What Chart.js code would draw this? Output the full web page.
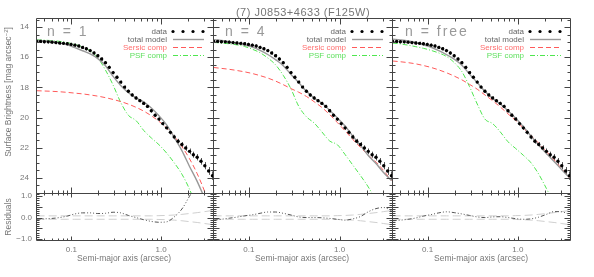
<!DOCTYPE html>
<html>
<head>
<meta charset="utf-8">
<title>(7) J0853+4633 (F125W)</title>
<script src="https://cdn.jsdelivr.net/npm/chart.js@4.4.1/dist/chart.umd.min.js"></script>
<style>
  body { margin: 0; background: #fff; }
  #page { position: relative; width: 594px; height: 277px; overflow: hidden; }
  #page canvas { position: absolute; left: 0; top: 0; }
  .lbl { position: absolute; font-family: "Liberation Sans", Arial, sans-serif; color: #777; white-space: nowrap; transform: translate(-50%, -50%); }
  .nlab { position: absolute; font-family: "Liberation Sans", Arial, sans-serif; color: #999; font-size: 14px; letter-spacing: 2px; white-space: nowrap; transform: translateY(-50%); }
  .rot { transform: translate(-50%, -50%) rotate(-90deg); }
</style>
</head>
<body>
<div id="page">
  <canvas id="sb0" width="594" height="277"></canvas>
  <canvas id="sb1" width="594" height="277"></canvas>
  <canvas id="sb2" width="594" height="277"></canvas>
  <canvas id="res0" width="594" height="277"></canvas>
  <canvas id="res1" width="594" height="277"></canvas>
  <canvas id="res2" width="594" height="277"></canvas>

  <div class="lbl" style="left:303px;top:12px;font-size:11px;letter-spacing:0.5px">(7) J0853+4633 (F125W)</div>
  <div class="lbl rot" style="left:8px;top:92px;font-size:8.5px">Surface Brightness [mag arcsec<sup style="font-size:6px">−2</sup>]</div>
  <div class="lbl rot" style="left:8px;top:217px;font-size:8.5px">Residuals</div>
  <div class="lbl" style="left:124px;top:258px;font-size:8.5px">Semi-major axis (arcsec)</div>
  <div class="lbl" style="left:302px;top:258px;font-size:8.5px">Semi-major axis (arcsec)</div>
  <div class="lbl" style="left:481px;top:258px;font-size:8.5px">Semi-major axis (arcsec)</div>
  <div class="nlab" style="left:47px;top:31px">n = 1</div>
  <div class="nlab" style="left:225px;top:31px">n = 4</div>
  <div class="nlab" style="left:405px;top:31px">n = free</div>
</div>
<script>
// isophote radii (arcsec) and measured surface brightness
var radius = [0.0410, 0.0453, 0.0499, 0.0551, 0.0607, 0.0670, 0.0739, 0.0815, 0.0899, 0.0991,
  0.1093, 0.1206, 0.1330, 0.1467, 0.1618, 0.1785, 0.1969, 0.2171, 0.2395, 0.2642,
  0.2914, 0.3214, 0.3545, 0.3910, 0.4313, 0.4757, 0.5247, 0.5788, 0.6384, 0.7041,
  0.7767, 0.8567, 0.9449, 1.0422, 1.1496, 1.2680, 1.3986, 1.5427, 1.7016, 1.8769,
  2.0702, 2.2834, 2.5186, 2.7780, 3.0642, 3.3798, 3.7279];
var sbData = [14.95, 14.95, 14.97, 14.98, 15.00, 15.03, 15.06, 15.08, 15.11, 15.15,
  15.20, 15.26, 15.35, 15.44, 15.56, 15.72, 15.90, 16.12, 16.36, 16.67,
  17.02, 17.33, 17.65, 17.98, 18.26, 18.50, 18.70, 18.88, 19.06, 19.26,
  19.55, 19.85, 20.10, 20.40, 20.68, 20.98, 21.29, 21.57, 21.79, 22.02,
  22.24, 22.46, 22.63, 22.90, 23.19, 23.54, 23.85];
var sbErr = [0.01, 0.01, 0.01, 0.01, 0.01, 0.01, 0.01, 0.01, 0.01, 0.01,
  0.01, 0.01, 0.01, 0.01, 0.01, 0.01, 0.01, 0.01, 0.01, 0.01,
  0.01, 0.01, 0.01, 0.01, 0.01, 0.01, 0.01, 0.01, 0.01, 0.01,
  0.02, 0.02, 0.03, 0.03, 0.04, 0.04, 0.05, 0.06, 0.07, 0.08,
  0.09, 0.10, 0.11, 0.12, 0.14, 0.16, 0.18];

// model curves, sampled on every second radius
var modelRadius = [0.0410, 0.0499, 0.0607, 0.0739, 0.0899, 0.1093, 0.1330, 0.1618, 0.1969, 0.2395,
  0.2914, 0.3545, 0.4313, 0.5247, 0.6384, 0.7767, 0.9449, 1.1496, 1.3986, 1.7016,
  2.0702, 2.5186, 3.0642, 3.7279];

var totalN1 = [14.87, 14.91, 14.96, 15.06, 15.18, 15.37, 15.57, 15.78, 16.09, 16.56, 17.27, 17.87,
  18.36, 18.70, 18.96, 19.37, 19.88, 20.48, 21.32, 22.19, 23.24, 24.23, 25.39, 26.65];
var sersicN1 = [18.22, 18.24, 18.26, 18.29, 18.33, 18.38, 18.43, 18.50, 18.58, 18.68, 18.80, 18.94,
  19.11, 19.32, 19.57, 19.88, 20.25, 20.70, 21.25, 21.92, 22.73, 23.72, 24.93, 26.40];
var psfN1 = [14.85, 14.87, 14.90, 14.95, 15.03, 15.15, 15.32, 15.58, 16.05, 16.85, 17.85, 19.00,
  19.85, 20.20, 20.85, 21.35, 21.80, 22.35, 23.00, 23.75, 24.75, 26.00, 27.00, 28.00];
var residN1 = [-0.08, -0.06, -0.04, 0.00, 0.07, 0.17, 0.22, 0.22, 0.19, 0.20, 0.25, 0.22,
  0.10, 0.00, -0.10, -0.18, -0.22, -0.20, 0.03, 0.40, 1.00, 1.60, 2.20, 2.80];

var totalN4 = [14.83, 14.89, 14.97, 15.08, 15.19, 15.33, 15.55, 15.82, 16.16, 16.56, 17.14, 17.68,
  18.26, 18.70, 19.05, 19.51, 20.02, 20.56, 21.23, 21.84, 22.51, 23.05, 23.66, 24.18];
var sersicN4 = [16.68, 16.74, 16.80, 16.88, 16.97, 17.08, 17.22, 17.38, 17.58, 17.82, 18.08, 18.32,
  18.60, 18.95, 19.33, 19.80, 20.33, 20.88, 21.45, 21.98, 22.50, 22.95, 23.52, 24.18];
var psfN4 = [15.02, 15.06, 15.11, 15.18, 15.29, 15.47, 15.70, 16.05, 16.50, 17.20, 18.10, 19.25,
  19.95, 20.36, 20.95, 21.55, 21.80, 22.45, 23.15, 23.85, 24.60, 25.50, 26.50, 27.50];
var residN4 = [-0.12, -0.08, -0.03, 0.02, 0.08, 0.13, 0.20, 0.26, 0.26, 0.20, 0.12, 0.03,
  0.00, 0.00, -0.01, -0.04, -0.08, -0.12, -0.06, 0.05, 0.27, 0.42, 0.47, 0.33];

var totalFree = [14.80, 14.85, 14.92, 15.04, 15.18, 15.34, 15.57, 15.83, 16.13, 16.53, 17.12, 17.68,
  18.26, 18.73, 19.10, 19.55, 20.05, 20.60, 21.23, 21.81, 22.39, 22.91, 23.46, 23.99];
var sersicFree = [16.25, 16.30, 16.36, 16.44, 16.55, 16.68, 16.84, 17.03, 17.25, 17.50, 17.80, 18.12,
  18.50, 18.88, 19.30, 19.75, 20.20, 20.70, 21.20, 21.70, 22.25, 22.80, 23.40, 24.00];
var psfFree = [15.06, 15.12, 15.20, 15.30, 15.41, 15.55, 15.72, 15.95, 16.35, 16.95, 17.95, 19.10,
  20.10, 20.40, 20.95, 21.60, 22.05, 22.50, 23.00, 23.75, 24.70, 25.70, 26.70, 27.70];
var residFree = [-0.15, -0.12, -0.08, -0.02, 0.07, 0.14, 0.22, 0.27, 0.23, 0.17, 0.10, 0.03,
  0.00, 0.03, 0.04, 0.00, -0.05, -0.08, -0.06, 0.02, 0.15, 0.28, 0.27, 0.14];

var residErr = [0.08, 0.08, 0.08, 0.08, 0.08, 0.08, 0.08, 0.08, 0.08, 0.08, 0.08, 0.08,
  0.08, 0.08, 0.08, 0.08, 0.09, 0.10, 0.12, 0.15, 0.19, 0.23, 0.28, 0.33];

// axis ticks
var xLabelTicks = [0.1, 1];
var xMinorTicks = [0.05, 0.06, 0.07, 0.08, 0.09, 0.2, 0.3, 0.4, 0.5, 0.6, 0.7, 0.8, 0.9, 2, 3];
var sbTicks = [14, 16, 18, 20, 22, 24];
var resTicks = [1, 0.5, 0, -0.5, -1];

// layout
var W = 594, H = 277;
var cols = [[36, 213], [213, 392], [392, 570]];
var rowsY = [[18, 193], [193, 240]];
var yAxisW = 30, xAxisH = 20;
var xRange = [0.0403, 3.78];
var sbRange = [13.4, 25.0];
var resRange = [-1.05, 1.15];
var fontFam = '"Liberation Sans", Arial, sans-serif';

Chart.defaults.font.family = fontFam;
Chart.defaults.color = '#777';

function pts(xs, ys) {
  return xs.map(function (x, i) { return {x: x, y: ys[i]}; });
}

function range(a, b, step) {
  var out = [];
  for (var v = a; v <= b + 1e-9; v += step) out.push(Math.round(v * 100) / 100);
  return out;
}

// box with inward ticks on all four sides
function framePlugin(row) {
  var yMajor = row === 0 ? sbTicks : resTicks;
  var yMinor = row === 0 ? range(13.5, 25, 0.5) : range(-1, 1.1, 0.1);
  var xl = row === 0 ? [6, 3] : [4, 2];
  var yl = row === 0 ? [6, 3] : [6, 3];
  return {
    id: 'frame',
    afterDatasetsDraw: function (chart) {
      var ctx = chart.ctx, a = chart.chartArea, sx = chart.scales.x, sy = chart.scales.y;
      var L = Math.round(a.left) + 0.5, R = Math.round(a.right) + 0.5;
      var T = Math.round(a.top) + 0.5, B = Math.round(a.bottom) + 0.5;
      ctx.save();
      ctx.strokeStyle = '#444';
      ctx.lineWidth = 1;
      ctx.beginPath();
      ctx.rect(L, T, R - L, B - T);
      function xt(v, len) {
        var x = Math.round(sx.getPixelForValue(v)) + 0.5;
        ctx.moveTo(x, T); ctx.lineTo(x, T + len);
        ctx.moveTo(x, B); ctx.lineTo(x, B - len);
      }
      function yt(v, len) {
        var y = Math.round(sy.getPixelForValue(v)) + 0.5;
        if (y < T || y > B) return;
        ctx.moveTo(L, y); ctx.lineTo(L + len, y);
        ctx.moveTo(R, y); ctx.lineTo(R - len, y);
      }
      xLabelTicks.forEach(function (v) { xt(v, xl[0]); });
      xMinorTicks.forEach(function (v) { xt(v, xl[1]); });
      yMajor.forEach(function (v) { yt(v, yl[0]); });
      yMinor.forEach(function (v) { yt(v, yl[1]); });
      ctx.stroke();
      ctx.restore();
    }
  };
}

// vertical error bars under the data points
var errorBars = {
  id: 'errorBars',
  beforeDatasetsDraw: function (chart) {
    var ctx = chart.ctx, a = chart.chartArea, sx = chart.scales.x, sy = chart.scales.y;
    ctx.save();
    ctx.beginPath();
    ctx.rect(a.left, a.top, a.right - a.left, a.bottom - a.top);
    ctx.clip();
    ctx.strokeStyle = '#555';
    ctx.lineWidth = 1;
    ctx.beginPath();
    radius.forEach(function (r, i) {
      var x = Math.round(sx.getPixelForValue(r)) + 0.5;
      ctx.moveTo(x, sy.getPixelForValue(sbData[i] - sbErr[i]) - 1.5);
      ctx.lineTo(x, sy.getPixelForValue(sbData[i] + sbErr[i]) + 1.5);
    });
    ctx.stroke();
    ctx.restore();
  }
};

// text-then-symbol legend in the upper right corner
var sbLegend = {
  id: 'sbLegend',
  afterDraw: function (chart) {
    var ctx = chart.ctx, a = chart.chartArea;
    var tx = a.right - 46, x0 = a.right - 40, x1 = a.right - 9;
    ctx.save();
    ctx.font = '8px ' + fontFam;
    ctx.textAlign = 'right';
    ctx.textBaseline = 'middle';
    chart.data.datasets.forEach(function (ds, k) {
      var y = Math.round(a.top + 13 + k * 8) + 0.5;
      ctx.fillStyle = ds.legendText;
      ctx.fillText(ds.label, tx, y);
      if (k === 0) {
        ctx.fillStyle = '#000';
        for (var j = 0; j < 4; j++) {
          ctx.beginPath();
          ctx.arc(x0 + j * 10, y, 1.6, 0, Math.PI * 2);
          ctx.fill();
        }
      } else {
        ctx.strokeStyle = ds.borderColor;
        ctx.lineWidth = ds.borderWidth;
        ctx.setLineDash(ds.borderDash || []);
        ctx.beginPath();
        ctx.moveTo(x0, y);
        ctx.lineTo(x1, y);
        ctx.stroke();
      }
    });
    ctx.restore();
  }
};

function makeChart(id, col, row, datasets, plugins) {
  var c = cols[col], r = rowsY[row];
  var showY = col === 0, showX = row === 1;
  var pad = {
    left: c[0] - (showY ? yAxisW : 0),
    right: W - c[1],
    top: r[0],
    bottom: H - r[1] - (showX ? xAxisH : 0)
  };
  var yr = row === 0 ? sbRange : resRange;
  return new Chart(document.getElementById(id), {
    type: 'line',
    data: {datasets: datasets},
    options: {
      responsive: false,
      animation: false,
      events: [],
      layout: {padding: pad, autoPadding: false},
      plugins: {legend: {display: false}, tooltip: {enabled: false}},
      scales: {
        x: {
          type: 'logarithmic',
          min: xRange[0],
          max: xRange[1],
          display: showX,
          grid: {display: false, drawTicks: false},
          border: {display: false},
          ticks: {
            autoSkip: false,
            maxRotation: 0,
            padding: 5,
            color: '#777',
            font: {size: 8},
            callback: function (v) { return v === 1 ? '1.0' : (v === 0.1 ? '0.1' : ''); }
          },
          afterBuildTicks: function (s) { s.ticks = xLabelTicks.map(function (v) { return {value: v}; }); },
          afterFit: function (s) { s.height = showX ? xAxisH : 0; }
        },
        y: {
          type: 'linear',
          reverse: row === 0,
          min: yr[0],
          max: yr[1],
          display: showY,
          grid: {display: false, drawTicks: false},
          border: {display: false},
          ticks: {
            padding: row === 0 ? 7 : 4,
            color: '#777',
            font: {size: 8},
            callback: function (v) {
              if (row === 0) return String(v);
              return (v < 0 ? '−' : '') + Math.abs(v).toFixed(1);
            }
          },
          afterBuildTicks: function (s) {
            s.ticks = (row === 0 ? sbTicks : resTicks).map(function (v) { return {value: v}; });
          },
          afterFit: function (s) { s.width = showY ? yAxisW : 0; }
        }
      }
    },
    plugins: plugins
  });
}

function sbDatasets(total, sersic, psf) {
  return [
    {label: 'data', legendText: '#666', data: pts(radius, sbData), showLine: false,
      pointRadius: 1.7, pointBorderWidth: 0, pointBackgroundColor: '#000', borderColor: '#000'},
    {label: 'total model', legendText: '#666', data: pts(modelRadius, total), borderColor: '#999',
      borderWidth: 1.4, pointRadius: 0, cubicInterpolationMode: 'monotone'},
    {label: 'Sersic comp', legendText: '#ff6f6f', data: pts(modelRadius, sersic), borderColor: '#ff5a5a',
      borderWidth: 1, borderDash: [5, 3], pointRadius: 0, cubicInterpolationMode: 'monotone'},
    {label: 'PSF comp', legendText: '#5fe05f', data: pts(modelRadius, psf), borderColor: '#4fe64f',
      borderWidth: 1, borderDash: [5, 2, 1, 2], pointRadius: 0, cubicInterpolationMode: 'monotone'}
  ];
}

function resDatasets(resid) {
  return [
    {label: 'residual', data: pts(modelRadius, resid), borderColor: '#555', borderWidth: 1,
      borderDash: [4, 2, 1, 2, 1, 2, 1, 2], pointRadius: 0, cubicInterpolationMode: 'monotone'},
    {label: 'upper error', data: pts(modelRadius, residErr), borderColor: '#cfcfcf', borderWidth: 1,
      borderDash: [8, 4], pointRadius: 0, cubicInterpolationMode: 'monotone'},
    {label: 'lower error', data: pts(modelRadius, residErr.map(function (v) { return -v; })),
      borderColor: '#cfcfcf', borderWidth: 1, borderDash: [8, 4], pointRadius: 0,
      cubicInterpolationMode: 'monotone'}
  ];
}

var panels = [
  [totalN1, sersicN1, psfN1, residN1],
  [totalN4, sersicN4, psfN4, residN4],
  [totalFree, sersicFree, psfFree, residFree]
];

panels.forEach(function (p, i) {
  makeChart('sb' + i, i, 0, sbDatasets(p[0], p[1], p[2]), [errorBars, framePlugin(0), sbLegend]);
  makeChart('res' + i, i, 1, resDatasets(p[3]), [framePlugin(1)]);
});
</script>
</body>
</html>
